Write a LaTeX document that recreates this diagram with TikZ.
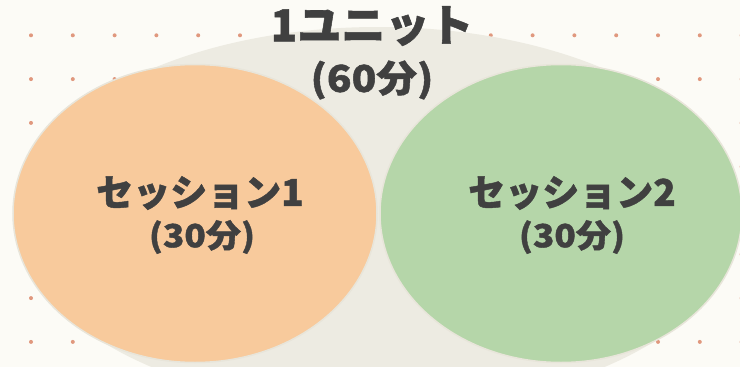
\documentclass[tikz,border=0pt]{standalone}
\usepackage{fontspec}
\newfontfamily\jp{Noto Sans CJK JP}[BoldFeatures={FakeBold=1.2}]
\newfontfamily\jpwide{Noto Sans CJK JP}[FakeStretch=1.1,BoldFeatures={FakeBold=1.2}]
\usetikzlibrary{shapes.geometric}
\definecolor{bgc}{HTML}{FCFBF6}
\definecolor{dotc}{HTML}{E0987E}
\definecolor{unitc}{HTML}{EDEBE2}
\definecolor{orangec}{HTML}{F8CA9C}
\definecolor{greenc}{HTML}{B5D6A9}
\definecolor{rimc}{HTML}{E8E5DA}
\definecolor{txtc}{HTML}{404040}
\tikzset{
  blob/.style={ellipse, inner sep=0pt, draw=rimc, line width=1.5pt},
  bigtitle/.style={font=\jp\bfseries\fontsize{44}{48}\selectfont, text=txtc, inner sep=0pt},
  subtitle/.style={font=\jpwide\bfseries\fontsize{37}{40}\selectfont, text=txtc, inner sep=0pt},
  sesstitle/.style={font=\jp\bfseries\fontsize{37}{40}\selectfont, text=txtc, inner sep=0pt},
  sesssub/.style={font=\jpwide\bfseries\fontsize{32}{36}\selectfont, text=txtc, inner sep=0pt}
}
\begin{document}
\begin{tikzpicture}[x=1pt,y=-1pt]
\fill[bgc] (0,0) rectangle (740,367);
\useasboundingbox (0,0) rectangle (740,367);
\foreach \i in {0,...,17}
  \foreach \j in {0,...,7}
    \fill[dotc] (31+41.8*\i, 35.3+43.8*\j) circle (2pt);
\node[ellipse, inner sep=0pt, fill=unitc, minimum width=724pt, minimum height=382pt] (unit) at (378,218) {};
\node[blob, fill=orangec, minimum width=364pt, minimum height=298pt] (s1) at (195,213.5) {};
\node[blob, fill=greenc, minimum width=362pt, minimum height=298pt] (s2) at (561,213.5) {};
\node[bigtitle] (unitname) at (372,26) {1ユニット};
\node[subtitle] (unittime) at (372,80) {(60分)};
\node[sesstitle] (s1name) at (200,193) {セッション1};
\node[sesssub] (s1time) at (202,237) {(30分)};
\node[sesstitle] (s2name) at (572,193) {セッション2};
\node[sesssub] (s2time) at (572,237) {(30分)};
\end{tikzpicture}
\end{document}
